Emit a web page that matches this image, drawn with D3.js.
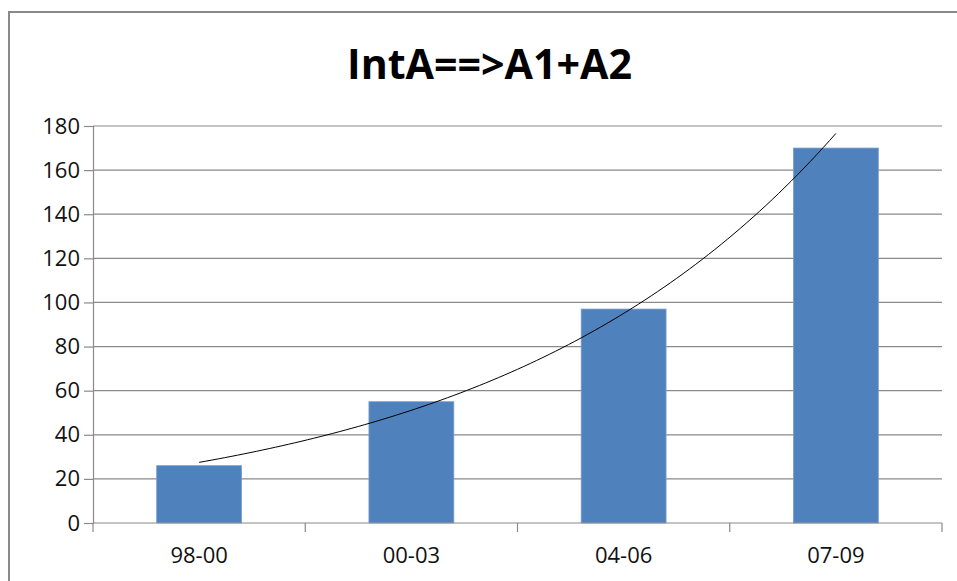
<!DOCTYPE html>
<html>
<head>
<meta charset="utf-8">
<script src="https://cdn.jsdelivr.net/npm/d3@7"></script>
<style>
  html, body { margin: 0; padding: 0; background: #fff; }
  svg { display: block; }
</style>
</head>
<body>
<svg id="chart" width="957" height="581"></svg>
<script>
const categories = ["98-00", "00-03", "04-06", "07-09"];
const values = [26, 55, 97, 170];
const yTicks = [0, 20, 40, 60, 80, 100, 120, 140, 160, 180];
const title = "IntA==>A1+A2";

const svg = d3.select("#chart");
const W = 957, H = 581;
const plotLeft = 93, plotRight = 942, plotTop = 126, plotBottom = 523;
const font = "'Open Sans', 'Liberation Sans', sans-serif";

// outer border
svg.append("rect").attr("x", 9).attr("y", 12).attr("width", W).attr("height", H)
  .attr("fill", "#fff").attr("stroke", "#898989").attr("stroke-width", 2);

// title
svg.append("text").attr("x", 489.5).attr("y", 79).attr("text-anchor", "middle")
  .attr("font-family", font).attr("font-weight", "bold").attr("font-size", 42)
  .attr("textLength", 285).attr("lengthAdjust", "spacingAndGlyphs")
  .attr("fill", "#000").text(title);

const x = d3.scaleBand().domain(categories).range([plotLeft, plotRight])
  .paddingInner(0.6).paddingOuter(0.3);
const y = d3.scaleLinear().domain([0, 180]).range([plotBottom, plotTop]);

// gridlines
svg.append("g").selectAll("line").data(yTicks.filter(d => d > 0)).join("line")
  .attr("x1", plotLeft).attr("x2", plotRight)
  .attr("y1", d => y(d)).attr("y2", d => y(d))
  .attr("stroke", "#8a8a8a").attr("stroke-width", 1.2);

// y axis
const yAxis = svg.append("g").attr("transform", `translate(${plotLeft},0)`)
  .call(d3.axisLeft(y).tickValues(yTicks).tickSize(9).tickPadding(4).tickFormat(d3.format("d")));
yAxis.select(".domain").attr("stroke", "#8a8a8a").attr("stroke-width", 1.2);
yAxis.selectAll(".tick line").attr("stroke", "#8a8a8a").attr("stroke-width", 1.2);
yAxis.selectAll(".tick text").attr("font-family", font).attr("font-size", 22).attr("fill", "#111");

// bars
svg.append("g").selectAll("rect").data(values).join("rect")
  .attr("x", (d, i) => x(categories[i]))
  .attr("width", x.bandwidth())
  .attr("y", d => y(d))
  .attr("height", d => y(0) - y(d))
  .attr("fill", "#4F81BD")
  .attr("stroke", "#7a9fcf").attr("stroke-width", 0.8);

// x axis
svg.append("line").attr("x1", plotLeft).attr("x2", plotRight).attr("y1", plotBottom).attr("y2", plotBottom)
  .attr("stroke", "#8a8a8a").attr("stroke-width", 1.2);
const step = x.step();
const boundaries = d3.range(categories.length + 1).map(i => plotLeft + i * step);
svg.append("g").selectAll("line").data(boundaries).join("line")
  .attr("x1", d => d).attr("x2", d => d).attr("y1", plotBottom).attr("y2", plotBottom + 9)
  .attr("stroke", "#8a8a8a").attr("stroke-width", 1.2);
svg.append("g").selectAll("text").data(categories).join("text")
  .attr("x", d => x(d) + x.bandwidth() / 2).attr("y", 563)
  .attr("text-anchor", "middle").attr("font-family", font).attr("font-size", 22)
  .attr("fill", "#111").text(d => d);

// exponential trendline (least squares on ln values)
const n = values.length;
const xs = d3.range(1, n + 1);
const ls = values.map(v => Math.log(v));
const mx = d3.mean(xs), ml = d3.mean(ls);
const b = d3.sum(xs.map((xi, i) => (xi - mx) * (ls[i] - ml))) / d3.sum(xs.map(xi => (xi - mx) ** 2));
const a = Math.exp(ml - b * mx);
const xi2px = d3.scaleLinear().domain([1, n])
  .range([x(categories[0]) + x.bandwidth() / 2, x(categories[n - 1]) + x.bandwidth() / 2]);
const pts = d3.range(0, 101).map(k => 1 + (n - 1) * k / 100);
svg.append("path")
  .attr("d", d3.line().x(t => xi2px(t)).y(t => y(a * Math.exp(b * t)))(pts))
  .attr("fill", "none").attr("stroke", "#000").attr("stroke-width", 1);
</script>
</body>
</html>
